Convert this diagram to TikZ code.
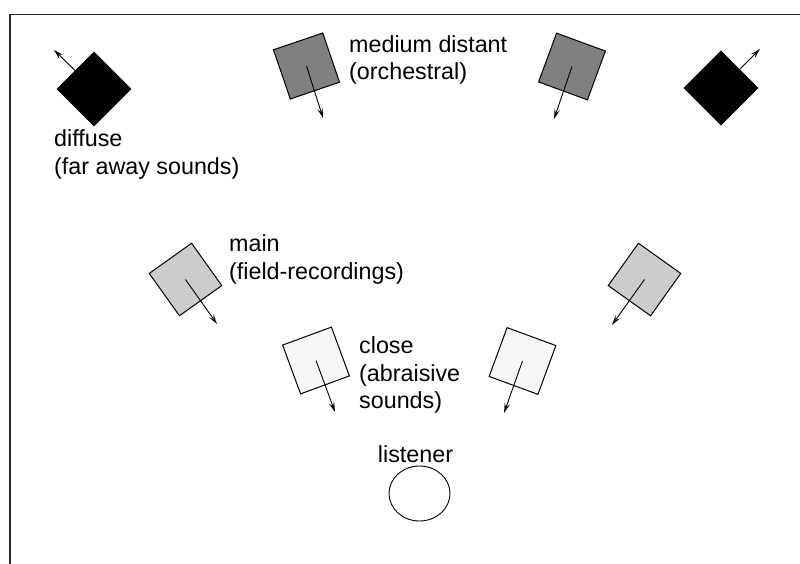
\documentclass[tikz,border=0pt]{standalone}
\usepackage{fontspec}
\setmainfont{Liberation Sans}
\usetikzlibrary{arrows.meta,shapes.geometric}
\tikzset{
  spk/.style={draw=black, line width=1pt, minimum size=52pt, inner sep=0pt, outer sep=0pt, shape=rectangle},
  lbl/.style={anchor=north west, inner sep=0pt, align=left, font=\fontsize{23.3}{27.4}\selectfont},
  dirarrow/.style={line width=0.9pt, -{Stealth[open, length=10pt, width=5.5pt, inset=4pt]}},
  frame/.style={line width=1.6pt, draw=black!85}
}
\begin{document}
\begin{tikzpicture}[x=1pt, y=-1pt]
\useasboundingbox (0,0) rectangle (800,564);
\draw[frame] (801,14.5) -- (10,14.5) -- (10,565);

% diffuse speakers
\node[spk, fill=black, rotate=45] (dl) at (94,89) {};
\node[spk, fill=black, rotate=45] (dr) at (721,88) {};
% medium distant speakers
\node[spk, fill=black!50, rotate=18.8] (ml) at (306.5,66) {};
\node[spk, fill=black!50, rotate=-20.2] (mr) at (572,66.5) {};
% main speakers
\node[spk, fill=black!20, rotate=35.5] (nl) at (185.5,279.5) {};
\node[spk, fill=black!20, rotate=-35.5] (nr) at (644.5,279.5) {};
% close speakers
\node[spk, fill=black!3, rotate=20.2] (cl) at (316,360.5) {};
\node[spk, fill=black!3, rotate=-20.2] (cr) at (522.5,361) {};

% arrow tips
\coordinate (dlt) at (54,50);
\coordinate (drt) at (760,49);
\coordinate (mlt) at (323,118);
\coordinate (mrt) at (554,119);
\coordinate (nlt) at (217,324);
\coordinate (nrt) at (612,325);
\coordinate (clt) at (335,412);
\coordinate (crt) at (504,413);

\draw[dirarrow] (dl.center) -- (dlt);
\draw[dirarrow] (dr.center) -- (drt);
\draw[dirarrow] (ml.center) -- (mlt);
\draw[dirarrow] (mr.center) -- (mrt);
\draw[dirarrow] (nl.center) -- (nlt);
\draw[dirarrow] (nr.center) -- (nrt);
\draw[dirarrow] (cl.center) -- (clt);
\draw[dirarrow] (cr.center) -- (crt);

% labels
\node[lbl] (tm) at (349,35) {medium distant\\(orchestral)};
\node[lbl] (td) at (54,129.8) {diffuse\\(far away sounds)};
\node[lbl] (tn) at (229,234.8) {main\\(field-recordings)};
\node[lbl] (tc) at (359,336.8) {close\\(abraisive\\sounds)};
\node[anchor=base, inner sep=0pt, font=\fontsize{23.3}{27.4}\selectfont] (tl) at (415.5,462) {listener};

% listener
\node[draw=black, line width=0.9pt, ellipse, minimum width=61pt, minimum height=55pt, inner sep=0pt] (lis) at (419.5,493.5) {};
\end{tikzpicture}
\end{document}
